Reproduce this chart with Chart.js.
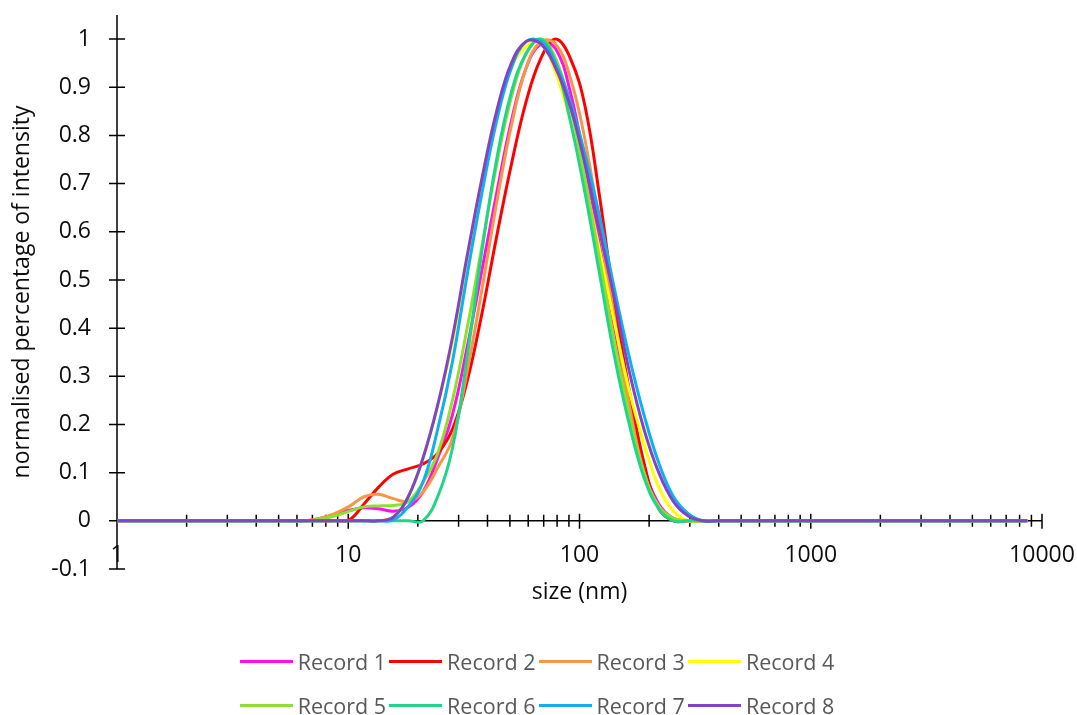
<!DOCTYPE html>
<html lang="en">
  <head>
    <meta charset="utf-8" />
    <title>Size distribution by intensity</title>
    <style>
      * {
        margin: 0;
        padding: 0;
      }
      body {
        background: #fff;
        font-family: "Open Sans", sans-serif;
      }
      .chartBox {
        position: relative;
        width: 1077px;
        height: 715px;
      }
      .legend {
        position: absolute;
        left: 0;
        width: 1077px;
        display: flex;
        justify-content: center;
        color: #595959;
        font-size: 21.5px;
      }
      .legend .item {
        display: flex;
        align-items: center;
        margin: 0 3px 0 0;
      }
      .legend .swatch {
        width: 53px;
        height: 3px;
        margin-right: 5px;
      }
    </style>
  </head>
  <body>
    <div class="chartBox">
      <canvas id="myChart"></canvas>
      <div class="legend" id="legendRow1" style="top: 647px"></div>
      <div class="legend" id="legendRow2" style="top: 691px"></div>
    </div>

    <script src="https://cdn.jsdelivr.net/npm/chart.js@4"></script>

    <script>
      // size bins (nm)
      const sizes = [
        0.9649, 1.117, 1.294, 1.499, 1.736, 2.01, 2.328, 2.696, 3.122, 3.615,
        4.187, 4.849, 5.615, 6.503, 7.531, 8.721, 10.1, 11.7, 13.54, 15.69,
        18.17, 21.04, 24.36, 28.21, 32.67, 37.84, 43.82, 50.75, 58.77, 68.06,
        78.82, 91.28, 105.7, 122.4, 141.8, 164.2, 190.1, 220.2, 255.0, 295.3,
        342.0, 396.1, 458.7, 531.2, 615.1, 712.4, 825.0, 955.4, 1106, 1281,
        1484, 1718, 1990, 2305, 2669, 3091, 3580, 4145, 4801, 5560, 6439, 7456,
        8635,
      ];

      const labels = ["Record 1", "Record 2", "Record 3", "Record 4", "Record 5", "Record 6", "Record 7", "Record 8"];
      const colors = ["#ff10e8", "#ff0000", "#f79646", "#ffff00", "#8ee030", "#22d488", "#10b0f0", "#8044c4"];

      const record1 = [
        0, 0, 0, 0, 0, 0, 0, 0, 0, 0, 0, 0, 0,
        0, 0.005, 0.013, 0.022, 0.027, 0.025, 0.02, 0.028, 0.06, 0.13,
        0.22, 0.36, 0.52, 0.68, 0.83, 0.94, 0.99, 0.98, 0.89, 0.74,
        0.57, 0.4, 0.24, 0.11, 0.035, 0.005, 0, 0,
        0, 0, 0, 0, 0, 0, 0, 0, 0, 0, 0, 0, 0, 0, 0, 0, 0, 0, 0, 0, 0, 0,
      ];
      const record2 = [
        0, 0, 0, 0, 0, 0, 0, 0, 0, 0, 0, 0, 0,
        0, 0, 0, 0.002, 0.035, 0.07, 0.097, 0.108, 0.118, 0.14,
        0.19, 0.29, 0.43, 0.59, 0.74, 0.87, 0.96, 1.0, 0.96, 0.86,
        0.67, 0.45, 0.27, 0.12, 0.025, 0, 0, 0,
        0, 0, 0, 0, 0, 0, 0, 0, 0, 0, 0, 0, 0, 0, 0, 0, 0, 0, 0, 0, 0, 0,
      ];
      const record3 = [
        0, 0, 0, 0, 0, 0, 0, 0, 0, 0, 0, 0, 0,
        0, 0.005, 0.015, 0.03, 0.05, 0.055, 0.046, 0.04, 0.06, 0.11,
        0.17, 0.31, 0.48, 0.66, 0.82, 0.94, 0.995, 0.99, 0.92, 0.79,
        0.61, 0.42, 0.24, 0.1, 0.03, 0.005, 0, 0,
        0, 0, 0, 0, 0, 0, 0, 0, 0, 0, 0, 0, 0, 0, 0, 0, 0, 0, 0, 0, 0, 0,
      ];
      const record4 = [
        0, 0, 0, 0, 0, 0, 0, 0, 0, 0, 0, 0, 0,
        0, 0, 0, 0, 0, 0, 0.008, 0.05, 0.13, 0.24,
        0.37, 0.54, 0.71, 0.85, 0.94, 0.985, 0.99, 0.93, 0.83, 0.7,
        0.56, 0.41, 0.27, 0.16, 0.07, 0.02, 0, 0,
        0, 0, 0, 0, 0, 0, 0, 0, 0, 0, 0, 0, 0, 0, 0, 0, 0, 0, 0, 0, 0, 0,
      ];
      const record5 = [
        0, 0, 0, 0, 0, 0, 0, 0, 0, 0, 0, 0, 0,
        0, 0.003, 0.01, 0.02, 0.029, 0.031, 0.032, 0.04, 0.08, 0.14,
        0.25, 0.4, 0.57, 0.74, 0.88, 0.97, 1.0, 0.96, 0.86, 0.71,
        0.54, 0.37, 0.22, 0.1, 0.03, 0.005, 0, 0,
        0, 0, 0, 0, 0, 0, 0, 0, 0, 0, 0, 0, 0, 0, 0, 0, 0, 0, 0, 0, 0, 0,
      ];
      const record6 = [
        0, 0, 0, 0, 0, 0, 0, 0, 0, 0, 0, 0, 0,
        0, 0, 0, 0, 0, 0, 0, 0, 0, 0.05,
        0.15, 0.34, 0.56, 0.75, 0.89, 0.97, 1.0, 0.95, 0.83, 0.68,
        0.51, 0.34, 0.2, 0.09, 0.025, 0, 0, 0,
        0, 0, 0, 0, 0, 0, 0, 0, 0, 0, 0, 0, 0, 0, 0, 0, 0, 0, 0, 0, 0, 0,
      ];
      const record7 = [
        0, 0, 0, 0, 0, 0, 0, 0, 0, 0, 0, 0, 0,
        0, 0, 0, 0, 0, 0, 0.002, 0.03, 0.08, 0.19,
        0.33, 0.51, 0.68, 0.83, 0.94, 0.995, 0.995, 0.95, 0.87, 0.76,
        0.63, 0.48, 0.34, 0.22, 0.12, 0.05, 0.015, 0,
        0, 0, 0, 0, 0, 0, 0, 0, 0, 0, 0, 0, 0, 0, 0, 0, 0, 0, 0, 0, 0, 0,
      ];
      const record8 = [
        0, 0, 0, 0, 0, 0, 0, 0, 0, 0, 0, 0, 0,
        0, 0, 0, 0, 0, 0, 0.008, 0.05, 0.13, 0.24,
        0.38, 0.55, 0.71, 0.85, 0.95, 0.995, 0.99, 0.94, 0.86, 0.74,
        0.6, 0.46, 0.31, 0.19, 0.1, 0.04, 0.01, 0,
        0, 0, 0, 0, 0, 0, 0, 0, 0, 0, 0, 0, 0, 0, 0, 0, 0, 0, 0, 0, 0, 0,
      ];
      const records = [record1, record2, record3, record4, record5, record6, record7, record8];

      // axis ticks and labels
      const xTickLabels = [1, 10, 100, 1000, 10000];
      const yTickValues = [-0.1, 0, 0.1, 0.2, 0.3, 0.4, 0.5, 0.6, 0.7, 0.8, 0.9, 1];
      const xTitle = "size (nm)";
      const yTitle = "normalised percentage of intensity";

      Chart.defaults.font.family = "'Open Sans', sans-serif";

      // excel style axes: lines crossing at 0, ticks through the line
      const excelAxes = {
        id: "excelAxes",
        beforeDatasetsDraw(chart) {
          const { ctx, chartArea, scales } = chart;
          const xs = scales.x;
          const ys = scales.y;
          const x0 = xs.getPixelForValue(1);
          const y0 = ys.getPixelForValue(0);
          const yBottom = ys.getPixelForValue(-0.1);

          ctx.save();
          ctx.strokeStyle = "#000";
          ctx.lineWidth = 1.5;
          ctx.beginPath();
          // y axis
          ctx.moveTo(x0, chartArea.top);
          ctx.lineTo(x0, yBottom);
          yTickValues.forEach((v) => {
            const py = ys.getPixelForValue(v);
            ctx.moveTo(x0 - 8, py);
            ctx.lineTo(x0 + 8, py);
          });
          // x axis
          ctx.moveTo(x0, y0);
          ctx.lineTo(xs.getPixelForValue(10000), y0);
          for (let d = 0; d < xTickLabels.length; d++) {
            const base = xTickLabels[d];
            const px = xs.getPixelForValue(base);
            ctx.moveTo(px, y0 - 7);
            ctx.lineTo(px, y0 + 8);
            if (d < xTickLabels.length - 1) {
              for (let m = 2; m <= 9; m++) {
                const pm = xs.getPixelForValue(base * m);
                ctx.moveTo(pm, y0 - 6);
                ctx.lineTo(pm, y0 + 6);
              }
            }
          }
          ctx.stroke();

          ctx.fillStyle = "#0d0d0d";
          ctx.font = "23px 'Open Sans', sans-serif";
          ctx.textAlign = "right";
          ctx.textBaseline = "middle";
          yTickValues.forEach((v) => {
            ctx.fillText(String(v), x0 - 26, ys.getPixelForValue(v));
          });
          ctx.textAlign = "center";
          xTickLabels.forEach((v) => {
            ctx.fillText(String(v), xs.getPixelForValue(v), y0 + 35);
          });

          ctx.font = "23px 'Open Sans', sans-serif";
          ctx.fillText(xTitle, (chartArea.left + chartArea.right) / 2, y0 + 72);
          ctx.translate(22, (chartArea.top + chartArea.bottom) / 2);
          ctx.rotate(-Math.PI / 2);
          ctx.fillText(yTitle, 0, 0);
          ctx.restore();
        },
      };

      const data = {
        datasets: records.map((values, i) => ({
          label: labels[i],
          data: values.map((v, j) => ({ x: sizes[j], y: v })),
          borderColor: colors[i],
          backgroundColor: colors[i],
          borderWidth: 3,
          pointRadius: 0,
          tension: 0.4,
          order: records.length - i,
        })),
      };

      const config = {
        type: "line",
        data: data,
        options: {
          responsive: true,
          maintainAspectRatio: false,
          animation: false,
          layout: {
            padding: { left: 117, right: 35, top: 15, bottom: 146 },
          },
          plugins: {
            legend: { display: false },
            tooltip: { enabled: false },
          },
          scales: {
            x: {
              type: "logarithmic",
              min: 1,
              max: 10000,
              display: false,
            },
            y: {
              min: -0.1,
              max: 1.05,
              display: false,
            },
          },
        },
        plugins: [excelAxes],
      };

      const myChart = new Chart(document.getElementById("myChart"), config);

      // legend, 4 items per row
      const rows = [document.getElementById("legendRow1"), document.getElementById("legendRow2")];
      labels.forEach((name, i) => {
        const item = document.createElement("div");
        item.className = "item";
        const swatch = document.createElement("span");
        swatch.className = "swatch";
        swatch.style.background = colors[i];
        const text = document.createElement("span");
        text.textContent = name;
        item.appendChild(swatch);
        item.appendChild(text);
        rows[i < 4 ? 0 : 1].appendChild(item);
      });
    </script>
  </body>
</html>
